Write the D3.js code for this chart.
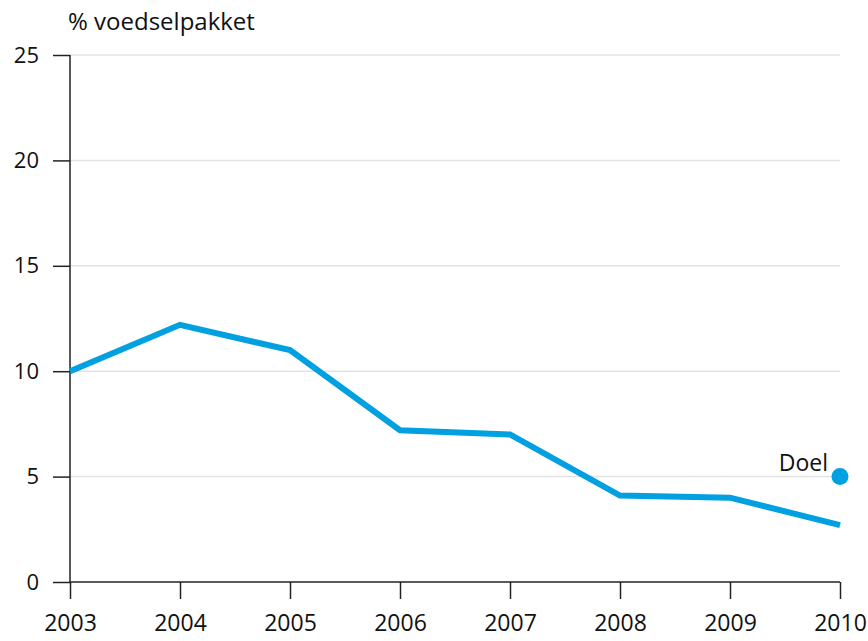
<!DOCTYPE html>
<html lang="nl">
<head>
  <meta charset="utf-8">
  <script src="https://d3js.org/d3.v7.min.js"></script>
  <style>
    body { margin: 0; background: #fff; }
    text { font-family: "Open Sans", "DejaVu Sans", sans-serif; fill: #111; }
  </style>
</head>
<body>
<script>
  // data
  var years = [2003, 2004, 2005, 2006, 2007, 2008, 2009, 2010];
  var pct = [10.0, 12.2, 11.0, 7.2, 7.0, 4.1, 4.0, 2.7];
  var yTicks = [0, 5, 10, 15, 20, 25];
  var goalYear = 2010, goalValue = 5;

  var w = 868, h = 641;
  var mLeft = 70, mRight = 840, mTop = 55, mBottom = 582;

  var svg = d3.select("body").append("svg")
    .attr("width", w)
    .attr("height", h);

  var x = d3.scaleLinear().domain([2003, 2010]).range([mLeft, mRight]);
  var y = d3.scaleLinear().domain([0, 25]).range([mBottom, mTop]);

  // grid
  svg.selectAll("line.grid")
    .data(yTicks.filter(function(d){ return d > 0; }))
    .enter().append("line")
    .attr("class", "grid")
    .attr("x1", mLeft).attr("x2", mRight)
    .attr("y1", function(d){ return y(d); })
    .attr("y2", function(d){ return y(d); })
    .attr("stroke", "#e2e2e2")
    .attr("stroke-width", 1.5);

  // y axis
  var yAxis = svg.append("g")
    .attr("transform", "translate(" + mLeft + ",0)")
    .call(d3.axisLeft(y).tickValues(yTicks).tickSize(17).tickPadding(14));
  yAxis.select(".domain").remove();
  yAxis.selectAll("line").attr("stroke", "#222").attr("stroke-width", 1.5);
  yAxis.selectAll("text").style("font-size", "22px").attr("fill", "#111");

  // x axis
  var xAxis = svg.append("g")
    .attr("transform", "translate(0," + mBottom + ")")
    .call(d3.axisBottom(x).tickValues(years).tickFormat(d3.format("d")).tickSize(17).tickPadding(16));
  xAxis.select(".domain").remove();
  xAxis.selectAll("line").attr("stroke", "#222").attr("stroke-width", 1.5);
  xAxis.selectAll("text").style("font-size", "23px").attr("fill", "#111");

  // axis lines
  svg.append("line")
    .attr("x1", mLeft).attr("x2", mLeft)
    .attr("y1", mTop).attr("y2", mBottom)
    .attr("stroke", "#222").attr("stroke-width", 1.5);
  svg.append("line")
    .attr("x1", mLeft).attr("x2", mRight)
    .attr("y1", mBottom).attr("y2", mBottom)
    .attr("stroke", "#222").attr("stroke-width", 1.5);

  // line
  var line = d3.line()
    .x(function(d, i){ return x(years[i]); })
    .y(function(d){ return y(d); });
  svg.append("path")
    .datum(pct)
    .attr("d", line)
    .attr("fill", "none")
    .attr("stroke", "#00a0e1")
    .attr("stroke-width", 6)
    .attr("stroke-linejoin", "miter");

  // goal
  svg.append("circle")
    .attr("cx", x(goalYear)).attr("cy", y(goalValue))
    .attr("r", 8.5)
    .attr("fill", "#00a0e1");
  svg.append("text")
    .attr("x", x(goalYear) - 12).attr("y", y(goalValue) - 6)
    .attr("text-anchor", "end")
    .style("font-size", "23px")
    .text("Doel");

  // title
  svg.append("text")
    .attr("x", 68).attr("y", 30)
    .style("font-size", "24px")
    .text("% voedselpakket");
</script>
</body>
</html>
